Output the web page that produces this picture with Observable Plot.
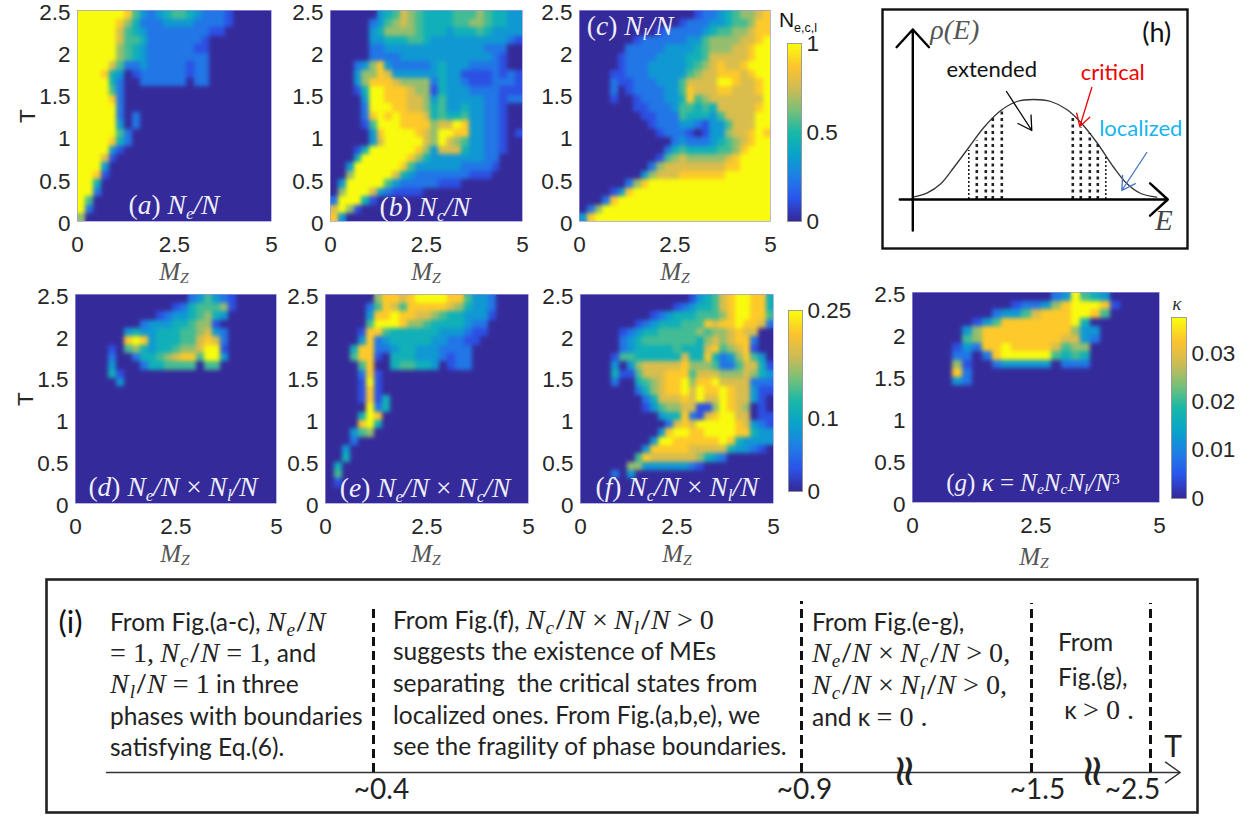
<!DOCTYPE html>
<html><head><meta charset="utf-8">
<script src="https://cdn.jsdelivr.net/npm/d3@7"></script>
<script src="https://cdn.jsdelivr.net/npm/@observablehq/plot@0.6"></script>
<style>
html,body{margin:0;background:#fff}
#page{position:relative;width:1255px;height:817px;overflow:hidden;font-family:'Liberation Sans',sans-serif}
.t{position:absolute;white-space:nowrap;transform:translateY(-50%);line-height:1}
.c{transform:translate(-50%,-50%)}
.m{font-family:'Liberation Serif',serif;font-style:italic;font-size:1.15em;letter-spacing:.03em}
.up{font-family:'Liberation Serif',serif;font-style:normal;font-size:1.15em}
.m sub,.s{font-size:.68em;vertical-align:-.28em;line-height:0}
.lab{color:#eeeefa;font-family:'Liberation Serif',serif;font-style:italic;font-size:27.5px;font-weight:300}
.lab .up{font-size:1em}
.mz{color:#555;font-family:'Liberation Serif',serif;font-style:italic;font-size:25px}
.lab sub,.mz sub{font-size:.62em;vertical-align:-.25em;line-height:0}
.b{font-family:Lato,sans-serif;font-size:24.5px;color:#222}
</style></head><body><div id="page"></div>
<script>
// Each grid: 25 rows (T from 2.5 down to 0) of 25 columns (Mz from 0 to 5); digit 0-9 = tenth-steps of the panel's colour range
const gridA=["9999998532345543222100000","9999986422233332222100000","9999975432222222211000000","9999975542222222100000000","9999965432222221100000000","9999965432222222200000000","9999752232222212200000000","9998430122222212200000000","9999420022222202200000000","999952","999982","999992","99999202","99999302","9999952","9999842","999931","99971","9993","9981","994","992","95","92","6"];
const gridB=["0000003457654444555654433","0000023567654444556654433","0000034666654443444543333","0000033444554333333333321","0000022333333333333322200","0000022223333333333332100","0002368322222343332222100","0003668733333343311112121","0003688876666243321112221","0001499888766143332222111","0000399888776353333322122","0000299988776453343322100","0000289898887454453322100","0000159998888677983322100","0000038999987699883322101","0000037999997697653322100","0001499999986377743322100","0004999999864333333322000","0039999998533333322221","006999997432222222111","03999995322222111","069997321111","299941","7961","83"];
const gridC=["0000000000000001223456678","0000000000000122233455688","0000000000122222345566788","0000000122222233566667789","0000002222233334566677899","0000012222333344577777899","0000012223333345678778999","0000112223333356778887899","0000211222333577779987789","0000201222233587778877789","0000100122233485677777779","0000000112223554547777789","0000000011222544435777799","0000000001222332133577799","0000000000122210133677898","0000000000002322234567899","0000000000024544445568999","0000000000156766666789999","0000000002677777777889999","0000000036777888888999999","000000268","0000138","00028","026","38"];
const gridD=["00000000000000235321","00000000000012455561","0000000000123345643","000000002333445661","0000003433444556732","0000008983444557872","0000105643445667991","0000200244567885993","000030002445555055","000041","000003"];
const gridE=["000000688789999885332","000002587588888764332","000003889887765443331","00000599986654444322","00001885444444333211","0000382344444332211","000488223443332222","000588104443332122","000058004554430122","0000281","0000191","0000181","00001814","00000924","0000498","0000894","000356","0002","003","004","04","05","01"];
const gridF=["0000000000000013457899884","0000000000001234457899884","0000000001234445556899885","0000000123444555878898872","0000012344555556566787700","0000023455555554676788200","0000023444445444785678100","0000155444444744842368530","0000303677777866652257741","0000411577788857776667643","0000200456788968897777222","0000000246788979889877311","0000000024777879779877310","0000000013566771169876010","0000000000344821789977011","0000000000027879999987321","0000000000389988999988433","0000000003998888889843333","0000000038888877777433210","0000000587777776432","0000006633333321","0000203"];
const gridG=["00000000000000239543","000000000012236899981","00000000233578889985","000000135888888894","0000036888888888633","0000056888888887732","000013288988887566","000022028999995454","000061002333330222","000082","000032"];

const parula=["#352a9a","#2b55ec","#1f80e4","#08a4cb","#18b9a8","#77c07a","#cfbb55","#fdc32f","#f9fb0e"];
const fullTicksX=[0,2.5,5], fullTicksY=[0,0.5,1,1.5,2,2.5];
const ticksTop=[0,0.5,1], ticksMid=[0,0.1,0.25], ticksRight=[0,0.01,0.02,0.03];

const curveE=[0,14,28,41,56,71,88,104,121,138,154,168,184,201,214,228,244];
const curveRho=[2.3,6.3,15.7,32,52,72,89,98,100,98,90,77,57,32,16,6,2.3];
const stripE=[64,73,80,89,160,168,177,185];
const stripRho=[59,71,82,90,84,72,66,56];
const thinE=[56,193];
const thinRho=[49,42];

// (i) timeline
const tThresholds=[0.4,0.9,1.5,2.5];
const tRuleTops=[163,171,169,169];
const tLabels=["~0.4","~0.9","~1.5","~2.5"];
const tLabelOffsets=[8,3,6,-18];
const tBreaks=[1.158,1.98];

const page=document.getElementById("page");
const SANS="'Liberation Sans',sans-serif";
const TICK=22.5;
const colorScale=max=>({type:"linear",domain:parula.map((_,i)=>max*i/(parula.length-1)),range:parula});

function values(grid,max,pad){
  return grid.flatMap(r=>Array.from(r.padEnd(25,pad||"0"),c=>(+c)/9*max)).concat(new Array(625).fill(0)).slice(0,625);
}
function heat(grid,max,box,opts={}){
  const [x0,x1,y0,y1]=box, ml=70,mb=50,mt=2,mr=4;
  const vals=values(grid,max,opts.pad);
  const raster=()=>Plot.raster(vals,{width:25,height:25,x1:0,x2:5,y1:2.5,y2:0,imageRendering:"pixelated",clip:"frame"});
  const marks=[
    raster(),raster(),
    Plot.axisX({ticks:fullTicksX,tickSize:0,tickPadding:15,label:null,tickFormat:d=>String(d),fontSize:TICK}),
    Plot.axisY({ticks:fullTicksY,tickSize:0,tickPadding:7,dy:2,tickFormat:d=>String(d),fontSize:TICK,
      label:opts.ylabel||null,labelAnchor:"center",labelArrow:"none",labelOffset:58}),
    Plot.frame({stroke:"#8a86d8",strokeWidth:0.6})
  ];
  const svg=Plot.plot({width:x1-x0+ml+mr,height:y1-y0+mt+mb,marginLeft:ml,marginRight:mr,marginTop:mt,marginBottom:mb,
    x:{domain:[0,5]},y:{domain:[0,2.5]},
    color:colorScale(max),
    style:{position:"absolute",left:(x0-ml)+"px",top:(y0-mt)+"px",fontFamily:SANS,fontSize:TICK+"px",color:"#262626",background:"transparent",overflow:"visible"},
    marks});
  svg.querySelectorAll("image")[1].style.filter="blur(2px)";
  page.appendChild(svg);
}
function bar(max,ticks,box,fmt){
  const [x0,x1,y0,y1]=box, mr=60,mt=12,mb=12;
  const steps=d3.range(64).map(i=>max*(63-i)/63);
  const svg=Plot.plot({width:x1-x0+mr,height:y1-y0+mt+mb,marginLeft:0,marginRight:mr,marginTop:mt,marginBottom:mb,
    x:{domain:[0,1],axis:null},y:{domain:[0,max]},
    color:colorScale(max),
    style:{position:"absolute",left:x0+"px",top:(y0-mt)+"px",fontFamily:SANS,fontSize:TICK+"px",color:"#262626",background:"transparent",overflow:"visible"},
    marks:[
      Plot.raster(steps,{width:1,height:64,x1:0,x2:1,y1:max,y2:0}),
      Plot.axisY({anchor:"right",ticks,tickSize:0,tickPadding:5,tickFormat:fmt||(d=>String(d)),label:null,fontSize:TICK}),
      Plot.frame({stroke:"#8c8c8c",strokeWidth:0.8})
    ]});
  page.appendChild(svg);
}
function text(html,x,y,cls,center){
  const d=document.createElement("div");
  d.className="t "+(cls||"")+(center?" c":"");
  d.style.left=x+"px";d.style.top=y+"px";d.innerHTML=html;
  page.appendChild(d);return d;
}

// ---------- heatmaps
heat(gridA,1,[77,271,10,221],{ylabel:"T"});
heat(gridB,1,[330,522,10,221]);
heat(gridC,1,[579,770,10,221],{pad:"9"});
heat(gridD,0.25,[75,276,294,503],{ylabel:"T"});
heat(gridE,0.25,[325,528,294,503]);
heat(gridF,0.25,[580,773,294,503]);
heat(gridG,0.0375,[912,1159,292,502]);
bar(1,ticksTop,[787,801,43,221]);
bar(0.25,ticksMid,[788,802,310,491]);
bar(0.0375,ticksRight,[1171,1186,317,498]);

const mz='M<sub>Z</sub>';
[[174],[426],[675]].forEach(([x])=>text(mz,x,271,"mz",true));
[[175],[426],[677]].forEach(([x])=>text(mz,x,553,"mz",true));
text(mz,1034,556,"mz",true);
text('<span class="up">(</span>a<span class="up">)</span> N<sub>e</sub>/N',174,205,"lab",true);
text('<span class="up">(</span>b<span class="up">)</span> N<sub>c</sub>/N',425,207,"lab",true);
text('<span class="up">(</span>c<span class="up">)</span> N<sub>l</sub>/N',630,26,"lab",true);
text('<span class="up">(</span>d<span class="up">)</span> N<sub>e</sub>/N <span class="up">×</span> N<sub>l</sub>/N',173,487,"lab",true);
text('<span class="up">(</span>e<span class="up">)</span> N<sub>e</sub>/N <span class="up">×</span> N<sub>c</sub>/N',425,488,"lab",true);
text('<span class="up">(</span>f<span class="up">)</span> N<sub>c</sub>/N <span class="up">×</span> N<sub>l</sub>/N',677,487,"lab",true);
text('<span class="up">(</span>g<span class="up">)</span> κ <span class="up">=</span> N<sub>e</sub>N<sub>c</sub>N<sub>l</sub>/N<sup style="font-size:.62em;vertical-align:.45em;line-height:0" class="up">3</sup>',1033,482,"lab",true).style.fontSize="25px";
const nt=text('N<span style="font-size:12.5px;vertical-align:-5px;line-height:0">e,c,l</span>',798,19,"",true);nt.style.fontSize="21px";nt.style.color="#111";
const kp=text('κ',1177,303,"m",true);kp.style.fontSize="19px";kp.style.color="#333";

// ---------- (h)
const curve=curveE.map((E,i)=>({E,rho:curveRho[i]}));
const strips=stripE.map((E,i)=>({E,rho:stripRho[i]}));
const thin=thinE.map((E,i)=>({E,rho:thinRho[i]}));
const hFont="Lato,sans-serif";
page.appendChild(Plot.plot({width:305,height:239,margin:0,
  x:{domain:[-30.3,274.7],range:[0,305],axis:null},y:{domain:[-49,190],range:[239,0],axis:null},
  style:{position:"absolute",left:"882px",top:"9px",background:"transparent",overflow:"visible"},
  marks:[
    Plot.line(curve,{x:"E",y:"rho",stroke:"#333",strokeWidth:1.3,curve:"catmull-rom"}),
    Plot.ruleX(strips,{x:"E",y1:0,y2:"rho",stroke:"#222",strokeWidth:2.6,strokeDasharray:"3,3.5"}),
    Plot.ruleX(thin,{x:"E",y1:0,y2:"rho",stroke:"#222",strokeWidth:1.6,strokeDasharray:"2,2"}),
    Plot.arrow([{a:-13,b:0,c:255,d:0},{a:0,b:-31,c:0,d:170}],{x1:"a",y1:"b",x2:"c",y2:"d",bend:0,stroke:"#000",strokeWidth:2.4,headLength:15,headAngle:85}),
    Plot.arrow([{a:93.7,b:108,c:119,d:69}],{x1:"a",y1:"b",x2:"c",y2:"d",bend:0,stroke:"#000",strokeWidth:1.3,headLength:24,headAngle:60}),
    Plot.arrow([{a:179,b:112,c:167,d:73}],{x1:"a",y1:"b",x2:"c",y2:"d",bend:0,stroke:"#f00000",strokeWidth:1.3,headLength:24,headAngle:60}),
    Plot.arrow([{a:234,b:47,c:209,d:9}],{x1:"a",y1:"b",x2:"c",y2:"d",bend:0,stroke:"#4472c4",strokeWidth:1.3,headLength:24,headAngle:60}),
    Plot.text(["extended"],{x:[79],y:[130],fontFamily:hFont,fontSize:22,fill:"#111"}),
    Plot.text(["critical"],{x:[200],y:[127],fontFamily:hFont,fontSize:22,fill:"#f00000"}),
    Plot.text(["localized"],{x:[228],y:[71],fontFamily:hFont,fontSize:22,fill:"#18b4f0"}),
    Plot.text(["(h)"],{x:[244],y:[166],fontFamily:hFont,fontSize:27,fill:"#111"}),
    Plot.text(["ρ(E)"],{x:[42],y:[169],fontFamily:"'Liberation Serif',serif",fontStyle:"italic",fontSize:28,fill:"#555"}),
    Plot.text(["E"],{x:[251],y:[-21],fontFamily:"'Liberation Serif',serif",fontStyle:"italic",fontSize:29,fill:"#444"}),
    Plot.frame({stroke:"#111",strokeWidth:2.4})
  ]}));

// ---------- (i)
const iFont="Lato,sans-serif";
const squiggles=tBreaks.map(T=>Plot.text(["≀≀"],{x:[T],y:[2],fontFamily:"'DejaVu Sans',sans-serif",fontSize:44,fill:"#222"}));
const timeline=Plot.plot({width:1255,height:233,marginLeft:46,marginRight:58,marginTop:0,marginBottom:0,
  x:{type:"linear",domain:[0,0.4,0.9,1.5,2.5],range:[106,373,801,1031,1150],axis:null},
  y:{domain:[0,193],range:[193,0],axis:null},
  style:{position:"absolute",left:"0",top:"579px",background:"transparent",overflow:"visible"},
  marks:[
    Plot.arrow([{a:0,b:2.75}],{x1:"a",x2:"b",y1:()=>0,y2:()=>0,bend:0,stroke:"#333",strokeWidth:1.5,headLength:18,headAngle:70}),
    Plot.ruleX(tThresholds.map((T,i)=>({T,top:tRuleTops[i]})),{x:"T",y1:0,y2:"top",stroke:"#111",strokeWidth:3,strokeDasharray:"9,5"}),
    ...tLabels.map((s,i)=>Plot.text([s],{x:[tThresholds[i]],y:[-18],dx:tLabelOffsets[i],fontFamily:iFont,fontSize:28,fill:"#222"})),
    ...squiggles,
    Plot.text(["T"],{x:[2.69],y:[25],fontFamily:iFont,fontSize:30,fill:"#222"}),
    Plot.text(["(i)"],{x:[-0.054],y:[149],fontFamily:iFont,fontSize:31,fill:"#111"}),
    Plot.frame({stroke:"#222",strokeWidth:2.6})
  ]});
timeline.querySelectorAll("text").forEach(t=>{if(t.textContent.includes("≀"))t.style.letterSpacing="-8px";});
page.appendChild(timeline);

const N=(s)=>`<span class="m">N<sub>${s}</sub></span>`;
const Nn='<span class="m">N</span>';
const up=(s)=>`<span class="up">${s}</span>`;
const col1=[
 `From Fig.(a-c), ${N("e")}/${Nn}`,
 `${up("= 1,")} ${N("c")}/${Nn} ${up("= 1,")} and`,
 `${N("l")}/${Nn} ${up("= 1")} in three`,
 `phases with boundaries`,
 `satisfying Eq.(6).`];
const col2=[
 `From Fig.(f), ${N("c")}/${Nn} ${up("×")} ${N("l")}/${Nn} ${up("&gt; 0")}`,
 `suggests the existence of MEs`,
 `separating&nbsp; the critical states from`,
 `localized ones. From Fig.(a,b,e), we`,
 `see the fragility of phase boundaries.`];
const col3=[
 `From Fig.(e-g),`,
 `${N("e")}/${Nn} ${up("×")} ${N("c")}/${Nn} ${up("&gt; 0,")}`,
 `${N("c")}/${Nn} ${up("×")} ${N("l")}/${Nn} ${up("&gt; 0,")}`,
 `and κ ${up("= 0 .")}`];
const col4=[`From`,`Fig.(g),`,`&nbsp;κ ${up("&gt; 0 .")}`];
const y1=[622,653,684,716,747], y2=[620,651,683,715,746], y3=[622,653,685,717], y4=[642,677,710];
col1.forEach((s,i)=>text(s,110,y1[i],"b"));
col2.forEach((s,i)=>text(s,393,y2[i],"b"));
col3.forEach((s,i)=>text(s,812,y3[i],"b"));
col4.forEach((s,i)=>text(s,1058,y4[i],"b"));
</script></body></html>
